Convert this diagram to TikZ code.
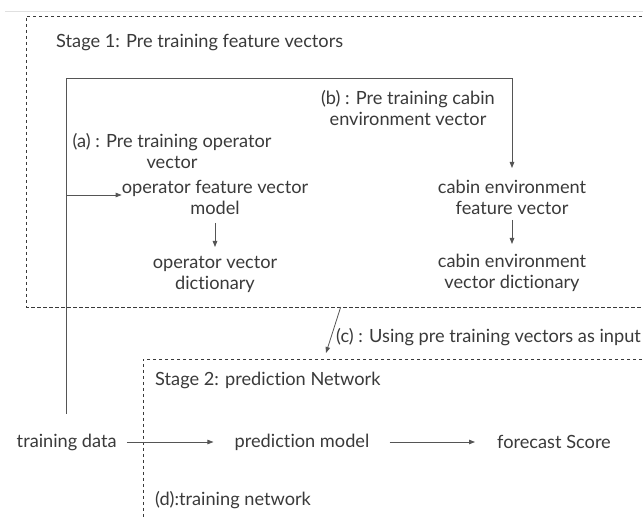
\documentclass[tikz,border=0pt]{standalone}
\usepackage{fontspec}
\setmainfont{Lato}[Ligatures=NoCommon]
\usetikzlibrary{arrows.meta}
\definecolor{ink}{HTML}{3A3A3A}
\definecolor{wire}{HTML}{555555}
\tikzset{
  lbl/.style={inner sep=0pt, text=ink, font=\fontsize{18.2}{21}\selectfont},
  clbl/.style={lbl, align=center},
  wireline/.style={draw=wire, line width=0.8pt},
  arr/.style={wireline, -{Triangle[length=6pt,width=4.5pt]}},
  stagebox/.style={draw=ink, line width=0.9pt, dash pattern=on 3.5pt off 2.5pt},
}
\begin{document}
\begin{tikzpicture}[x=1pt, y=-1pt]
  \useasboundingbox (0,0) rectangle (643,518);
  \clip (0,0) rectangle (643,518);
  \fill[white] (0,0) rectangle (643,518);

  % thin rule along the top
  \draw[color=black!12, line width=0.8pt] (5,11) -- (650,11);

  % stage frames, open to the right (and below for stage 2)
  \draw[stagebox] (660,16) -- (26,16) -- (26,307) -- (660,307);
  \draw[stagebox] (660,359) -- (143,359) -- (143,530);

  % stage 1 content
  \node[lbl, anchor=west] (s1) at (56,43) {Stage 1: Pre training feature vectors};
  \node[clbl] (lb) at (408,108) {(b) : Pre training cabin\\environment vector};
  \node[clbl] (la) at (172,151) {(a) : Pre training operator\\vector};
  \node[clbl] (opm) at (215,197) {operator feature vector\\model};
  \node[clbl] (opd) at (215,274) {operator vector\\dictionary};
  \node[clbl] (cef) at (512,197) {cabin environment\\feature vector};
  \node[clbl] (ced) at (512,273) {cabin environment\\vector dictionary};

  % stage 2 content
  \node[lbl, anchor=west] (lc) at (336,337) {(c) : Using pre training vectors as input};
  \node[lbl, anchor=west] (s2) at (155,380) {Stage 2: prediction Network};
  \node[lbl] (td) at (66.7,442) {training data};
  \node[lbl] (pm) at (302,442) {prediction model};
  \node[lbl] (fs) at (554,442) {forecast Score};
  \node[lbl, anchor=west] (ld) at (155,500) {(d):training network};

  % route of the training data into both pre-training branches
  \coordinate (tl) at (66.7,78);
  \coordinate (tr) at (512,78);
  \coordinate (br) at (66.7,195);
  \draw[arr] ([yshift=28pt]td.center) -- (tl) -- (tr) -- ([yshift=29pt]cef.center);
  \draw[arr] (br) -- (br -| opm.west);

  % inside stage 1
  \draw[arr] ([yshift=-26pt]opm.center) -- ([yshift=27pt]opd.center);
  \draw[arr] ([yshift=-23pt]cef.center) -- ([yshift=29pt]ced.center);

  % stage 1 feeds stage 2
  \coordinate (c1) at (340.7,307);
  \coordinate (c2) at (326,353);
  \draw[arr] (c1) -- (c2);

  % prediction chain
  \draw[arr, shorten <=10pt, shorten >=21pt] (td.east) -- (pm.west);
  \draw[arr, shorten <=20pt, shorten >=22pt] (pm.east) -- (fs.west);
\end{tikzpicture}
\end{document}
